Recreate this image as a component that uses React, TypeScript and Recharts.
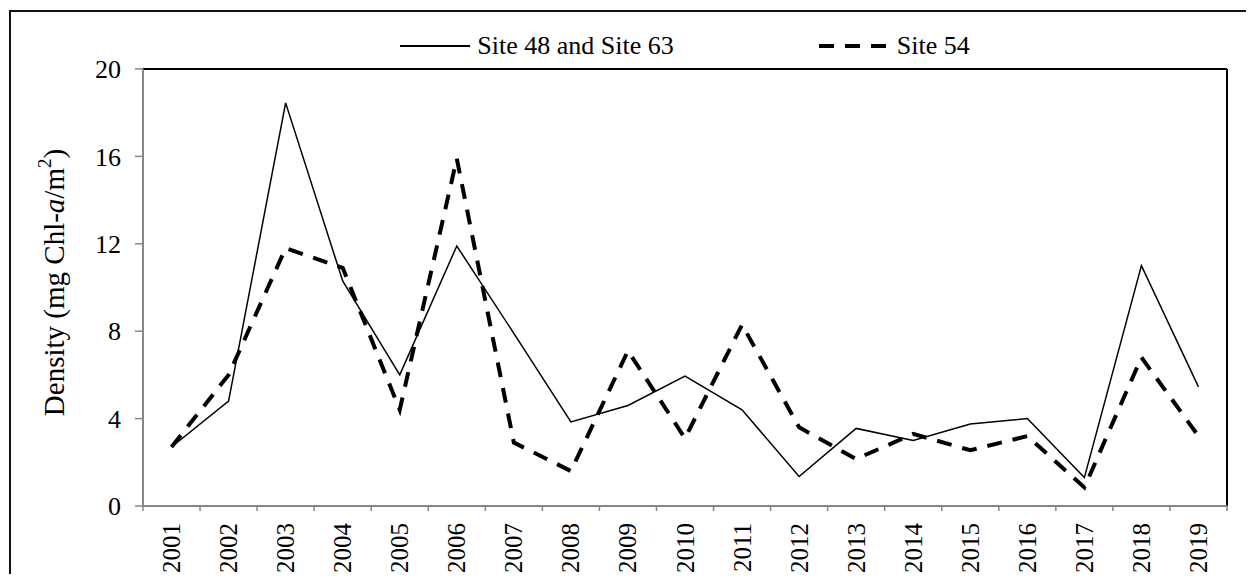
import { ComposedChart, Line, XAxis, YAxis, Legend, ReferenceLine } from "recharts"

const years = [
  "2001", "2002", "2003", "2004", "2005", "2006", "2007", "2008", "2009", "2010",
  "2011", "2012", "2013", "2014", "2015", "2016", "2017", "2018", "2019",
]
const site48and63 = [2.7, 4.8, 18.45, 10.3, 6.0, 11.9, 7.9, 3.85, 4.6, 5.95, 4.4, 1.35, 3.55, 3.0, 3.75, 4.0, 1.3, 11.0, 5.45]
const site54 = [2.7, 6.0, 11.8, 10.9, 4.4, 15.9, 2.9, 1.6, 7.1, 3.1, 8.3, 3.6, 2.15, 3.3, 2.55, 3.2, 0.85, 6.8, 3.2]
const yTicks = [0, 4, 8, 12, 16, 20]
const seriesNames = ["Site 48 and Site 63", "Site 54"]

// x = i + 0.5 puts each year in the middle of its slot, ticks sit on slot edges
const data = years.map((year, i) => ({ x: i + 0.5, year, a: site48and63[i], b: site54[i] }))
const xTicks = Array.from({ length: years.length * 2 + 1 }, (_, i) => i / 2)

const FONT = "Liberation Serif, Tinos, Times New Roman, Times, DejaVu Serif, serif"
const AXIS = "#868686"

function YearTick(props: any) {
  const { x, y, payload } = props
  const v = payload ? payload.value : 0
  if (Number.isInteger(v)) {
    return <line x1={x} y1={y} x2={x} y2={y + 5} stroke={AXIS} strokeWidth={1.5} />
  }
  const ty = y + 17
  return (
    <text
      x={x}
      y={ty}
      transform={`rotate(-90 ${x} ${ty})`}
      textAnchor="end"
      dominantBaseline="central"
      style={{ fontFamily: FONT, fontSize: 25 }}
      fill="#000"
    >
      {years[Math.floor(v)]}
    </text>
  )
}

function DensityLabel(props: any) {
  const vb = props.viewBox || { y: 69, height: 437 }
  const cx = 54
  const cy = vb.y + vb.height / 2 - 5
  return (
    <text
      x={cx}
      y={cy}
      transform={`rotate(-90 ${cx} ${cy})`}
      textAnchor="middle"
      dominantBaseline="central"
      style={{ fontFamily: FONT, fontSize: 29 }}
      fill="#000"
    >
      Density (mg Chl-<tspan fontStyle="italic">a</tspan>/m
      <tspan dy={-10} style={{ fontSize: 19 }}>2</tspan>
      <tspan dy={10}>)</tspan>
    </text>
  )
}

function LegendContent() {
  return (
    <div
      style={{
        display: "flex",
        justifyContent: "center",
        alignItems: "center",
        fontFamily: FONT,
        fontSize: 26,
        lineHeight: "30px",
        color: "#000",
      }}
    >
      <svg width={70} height={30} style={{ display: "block" }}>
        <line x1={0} y1={15} x2={70} y2={15} stroke="#000" strokeWidth={2} />
      </svg>
      <span style={{ marginLeft: 7 }}>{seriesNames[0]}</span>
      <svg width={72} height={30} style={{ display: "block", marginLeft: 145 }}>
        <line x1={0} y1={15} x2={72} y2={15} stroke="#000" strokeWidth={4} strokeDasharray="15 11" />
      </svg>
      <span style={{ marginLeft: 6 }}>{seriesNames[1]}</span>
    </div>
  )
}

export default function App() {
  return (
    <div style={{ position: "relative", width: 1238, height: 566, fontFamily: FONT }}>
      <div
        style={{
          position: "absolute",
          left: 1,
          top: 2,
          width: 1245,
          height: 572,
          borderLeft: "2px solid #111",
          borderTop: "2px solid #111",
          boxSizing: "border-box",
        }}
      />
      <div style={{ position: "absolute", left: -8, top: -8 }}>
        <ComposedChart width={1254} height={582} data={data} margin={{ top: 69, right: 27, left: 0, bottom: 0 }}>
          <XAxis
            dataKey="x"
            type="number"
            domain={[0, 19]}
            ticks={xTicks}
            interval={0}
            tickSize={0}
            tickMargin={0}
            tickLine={false}
            tick={YearTick}
            height={76}
            axisLine={{ stroke: AXIS, strokeWidth: 2 }}
          />
          <YAxis
            type="number"
            domain={[0, 20]}
            ticks={yTicks}
            interval={0}
            width={143}
            tickSize={8}
            tickMargin={14}
            tickLine={{ stroke: AXIS, strokeWidth: 1.5 }}
            axisLine={{ stroke: AXIS, strokeWidth: 2 }}
            tick={{ fill: "#000", fontSize: 26, style: { fontFamily: FONT } }}
            label={DensityLabel}
          />
          <ReferenceLine y={20} stroke="#000" strokeWidth={2} />
          <ReferenceLine x={19} stroke="#000" strokeWidth={2} />
          <Legend
            verticalAlign="middle"
            align="center"
            content={LegendContent}
            wrapperStyle={{ top: 31, left: 143, width: 1084 }}
          />
          <Line
            type="linear"
            dataKey="a"
            name={seriesNames[0]}
            stroke="#000"
            strokeWidth={1.5}
            dot={false}
            isAnimationActive={false}
          />
          <Line
            type="linear"
            dataKey="b"
            name={seriesNames[1]}
            stroke="#000"
            strokeWidth={4}
            strokeDasharray="15 11"
            dot={false}
            isAnimationActive={false}
          />
        </ComposedChart>
      </div>
    </div>
  )
}
